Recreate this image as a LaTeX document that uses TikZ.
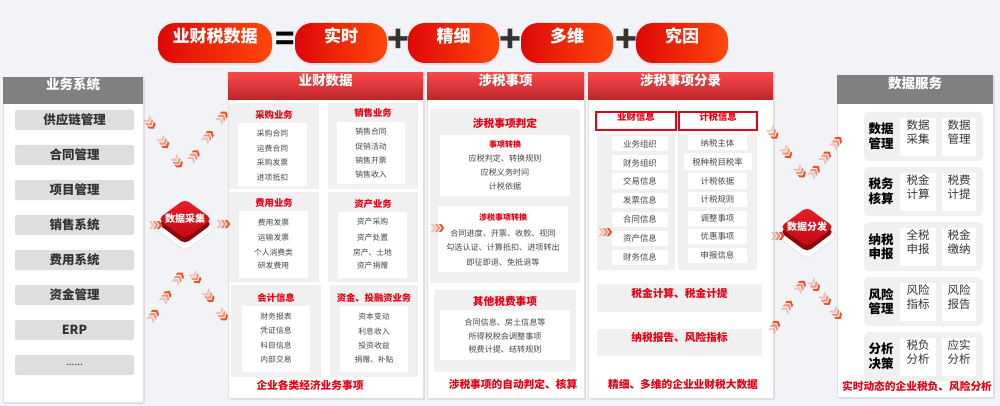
\documentclass[tikz,border=0pt]{standalone}
\usepackage{fontspec}
\setmainfont{Noto Sans CJK SC}
\usetikzlibrary{shapes.geometric,shadows,decorations.markings,fit}
\definecolor{bgc}{RGB}{241,243,247}
\definecolor{redt}{RGB}{232,0,20}
\definecolor{boxg}{RGB}{240,240,240}
\definecolor{headg}{RGB}{128,128,128}
\definecolor{itemg}{RGB}{222,222,222}
\definecolor{txtd}{RGB}{51,51,51}
\definecolor{txti}{RGB}{70,70,70}
\definecolor{chevc}{RGB}{240,80,36}
\definecolor{pillL}{RGB}{222,8,8}
\definecolor{pillR}{RGB}{255,72,10}
\definecolor{hdT}{RGB}{248,72,72}
\definecolor{hdB}{RGB}{188,36,40}
\definecolor{faceT}{RGB}{232,32,38}
\definecolor{faceB}{RGB}{192,8,16}
\definecolor{deepred}{RGB}{140,6,12}
\newcommand\fsz[2]{\fontsize{#1pt}{#2pt}\selectfont}
\newcommand\chevgroup{%
  \foreach \o/\op in {-8/0.3,-4/0.6,0/1}{%
    \fill[chevc,opacity=\op] (\o-2.5,-4) -- (\o,-4) -- (\o+3,0) -- (\o,4) -- (\o-2.5,4) -- (\o+0.5,0) -- cycle;}}
\newcommand\rbox[5][]{\node[#1,fit={(#3)(#4)},inner sep=0pt] (#2) {#5};}
\newcommand\cubediam[4]{%
  \fill[white,draw=black!12,line width=0.6pt,rounded corners=6pt] (#2,#3-12) -- (#2+31,#3+9) -- (#2,#3+32) -- (#2-31,#3+9) -- cycle;
  \fill[deepred,rounded corners=5pt] (#2,#3-15) -- (#2+27,#3+5) -- (#2,#3+25) -- (#2-27,#3+5) -- cycle;
  \node[cubeface] (#1) at (#2,#3) {#4};}
\tikzset{
  chevs/.style={decoration={markings,
     mark=at position 0.2 with {\chevgroup},
     mark=at position 0.58 with {\chevgroup},
     mark=at position 0.96 with {\chevgroup}},decorate},
  chevone/.style={decoration={markings,mark=at position 0.95 with {\chevgroup}},decorate},
  panel/.style={draw=black!12,fill=white,line width=0.8pt,drop shadow={shadow xshift=1.5pt,shadow yshift=-1.5pt,opacity=0.18}},
  redhead/.style={top color=hdT,bottom color=hdB,text=white,font=\fsz{13.5}{14}\bfseries},
  grayhead/.style={fill=headg,text=white,font=\fsz{13.5}{14}\bfseries},
  pill/.style={rounded corners=17pt,left color=pillL,right color=pillR,text=white,font=\fsz{17}{17}\bfseries,drop shadow={shadow xshift=0pt,shadow yshift=-2pt,opacity=0.15}},
  sign/.style={font=\fsz{36}{36}\bfseries,text=txtd,inner sep=0pt},
  lbox/.style={fill=itemg,rounded corners=2pt,minimum width=119pt,minimum height=20pt,inner sep=0pt,font=\fsz{12.5}{13}\bfseries,text=txtd},
  gbox/.style={fill=boxg},
  wbox/.style={fill=white},
  subttl/.style={text=redt,font=\fsz{9.3}{10}\bfseries,inner sep=0pt},
  smallred/.style={text=redt,font=\fsz{8}{9}\bfseries,inner sep=0pt},
  itm/.style={text=txti,font=\fsz{7.8}{9}},
  itm2/.style={text=txti,font=\fsz{8.1}{9}},
  foot/.style={text=redt,font=\fsz{10.7}{11}\bfseries,inner sep=0pt},
  hbox/.style={draw=redt,line width=1.5pt,fill=white,text=redt,font=\fsz{9.3}{10}\bfseries},
  cbox/.style={fill=white,minimum width=56pt,minimum height=15pt,inner sep=0pt,text=txti,font=\fsz{8.4}{9}},
  bar/.style={fill=boxg,text=redt,font=\fsz{10.7}{11}\bfseries},
  rowbox/.style={fill=boxg,rounded corners=6pt},
  rowlbl/.style={align=center,font=\fsz{12.5}{14.5}\bfseries,text=black,inner sep=0pt},
  rowitm/.style={fill=white,align=center,font=\fsz{11.5}{13.5},text=txtd,inner sep=0pt},
  cubeface/.style={shape=diamond,aspect=1.35,minimum width=54pt,minimum height=40pt,inner sep=0pt,rounded corners=5pt,top color=faceT,bottom color=faceB,text=white,font=\fsz{10}{10}\bfseries}
}
\begin{document}
\begin{tikzpicture}[x=1pt,y=-1pt]
\useasboundingbox (0,0) rectangle (1000,406);
\fill[bgc] (0,0) rectangle (1000,406);

% ---- top formula ----
\rbox[pill]{p0}{158,23}{272,63}{业财税数据}
\node[sign,text=black,font=\fsz{32}{32}\bfseries] (eq) at (285,41) {=};
\rbox[pill]{p1}{295,23}{387,63}{实时}
\node[sign] (pl1) at (398,41) {+};
\rbox[pill]{p2}{408,23}{499,63}{精细}
\node[sign] (pl2) at (510,41) {+};
\rbox[pill]{p3}{521,23}{613,63}{多维}
\node[sign] (pl3) at (626,41) {+};
\rbox[pill]{p4}{636,23}{728,63}{究因}

% ---- left panel ----
\rbox[panel]{lpanel}{3,77}{143,402}{}
\rbox[grayhead]{lhead}{3,77}{143,104}{业务系统}
\foreach \t/\y [count=\i] in {供应链管理/120,合同管理/155,项目管理/190,销售系统/225,费用系统/260,资金管理/295,ERP/330}
  \node[lbox] (ls\i) at (74.5,\y) {\t};
\node[lbox,font=\fsz{10}{10}] (ls8) at (74.5,365) {......};

% ---- column 1 ----
\rbox[panel]{col1}{228,73}{423,398}{}
\rbox[redhead]{h1}{228,73}{423,100}{业财数据}
\rbox[gbox]{b11}{229,103}{319,189}{}
\rbox[wbox]{w11}{238,123}{307,186}{}
\node[subttl] (t11) at (274,115) {采购业务};
\foreach \t/\y [count=\i] in {采购合同/134,运费合同/149,采购发票/163,进项抵扣/178}
  \node[itm] (i11-\i) at (272.5,\y) {\t};
\rbox[gbox]{b12}{328,103}{418,189}{}
\rbox[wbox]{w12}{337,122}{405,184}{}
\node[subttl] (t12) at (373,113) {销售业务};
\foreach \t/\y [count=\i] in {销售合同/132,促销活动/147,销售开票/161,销售收入/175}
  \node[itm] (i12-\i) at (371,\y) {\t};
\rbox[gbox]{b21}{229,192}{319,282}{}
\rbox[wbox]{w21}{239,211}{308,278}{}
\node[subttl] (t21) at (274,203) {费用业务};
\foreach \t/\y [count=\i] in {费用发票/223,运输发票/238,个人消费类/253,研发费用/266}
  \node[itm] (i21-\i) at (273.5,\y) {\t};
\rbox[gbox]{b22}{328,192}{418,282}{}
\rbox[wbox]{w22}{338,212}{407,278}{}
\node[subttl] (t22) at (373,204) {资产业务};
\foreach \t/\y [count=\i] in {资产采购/222,资产处置/238,房产、土地/253,资产捐赠/266}
  \node[itm] (i22-\i) at (372.5,\y) {\t};
\rbox[gbox]{b31}{231,285}{321,377}{}
\rbox[wbox]{w31}{242,306}{310,372}{}
\node[subttl] (t31) at (276,298) {会计信息};
\foreach \t/\y [count=\i] in {财务报表/317,凭证信息/331,科目信息/346,内部交易/360}
  \node[itm] (i31-\i) at (276,\y) {\t};
\rbox[gbox]{b32}{330,285}{418,377}{}
\rbox[wbox]{w32}{340,306}{408,372}{}
\node[subttl] (t32) at (374,298) {资金、投融资业务};
\foreach \t/\y [count=\i] in {资本变动/317,利息收入/331,投资收益/346,捐赠、补贴/360}
  \node[itm] (i32-\i) at (374,\y) {\t};
\node[foot] (f1) at (310,385) {企业各类经济业务事项};

% ---- column 2 ----
\rbox[panel]{col2}{427,73}{584,398}{}
\rbox[redhead]{h2}{427,73}{584,100}{涉税事项}
\rbox[gbox]{g21}{430,109}{580,283}{}
\node[foot] (t2a) at (505,123) {涉税事项判定};
\rbox[wbox]{w2a}{440,135}{570,196}{}
\node[smallred] (s2a) at (505,144) {事项转换};
\foreach \t/\y [count=\i] in {应税判定、转换规则/158,应税义务时间/172,计税依据/186}
  \node[itm2] (i2a-\i) at (505,\y) {\t};
\rbox[wbox]{w2b}{438,206}{568,272}{}
\node[smallred] (s2b) at (503,217) {涉税事项转换};
\foreach \t/\y [count=\i] in {合同进度、开票、收款、视同/233,勾选认证、计算抵扣、进项转出/247,即征即退、免抵退等/262}
  \node[itm2] (i2b-\i) at (503,\y) {\t};
\rbox[gbox]{g22}{434,290}{576,372}{}
\node[foot] (t2c) at (505,301) {其他税费事项};
\rbox[wbox]{w2c}{440,310}{570,360}{}
\foreach \t/\y [count=\i] in {合同信息、房土信息等/322,所得税税会调整事项/336,税费计提、结转规则/349}
  \node[itm2] (i2c-\i) at (505,\y) {\t};
\node[foot] (f2) at (513,384) {涉税事项的自动判定、核算};

% ---- column 3 ----
\rbox[panel]{col3}{588,73}{773,398}{}
\rbox[redhead]{h3}{588,73}{773,100}{涉税事项分录}
\rbox[hbox]{hb1}{596,112}{676,130}{业财信息}
\rbox[hbox]{hb2}{679,112}{757,130}{计税信息}
\rbox[gbox]{gl}{597,134}{675,270}{}
\rbox[gbox]{gr}{678,134}{757,270}{}
\foreach \t/\y [count=\i] in {业务组织/144,财务组织/163,交易信息/181,发票信息/200,合同信息/219,资产信息/238,财务信息/257}
  \node[cbox] (cl\i) at (640,\y) {\t};
\foreach \t/\y [count=\i] in {纳税主体/143,计税依据/181,计税规则/199,调整事项/218,优惠事项/236,申报信息/255}
  \node[cbox,minimum width=59pt] (cr\i) at (717.5,\y) {\t};
\node[cbox,minimum width=68pt,minimum height=17pt] (cr7) at (717.5,162) {税种税目税率};
\rbox[bar]{bar1}{597,284}{762,312}{税金计算、税金计提}
\rbox[bar]{bar2}{597,329}{762,356}{纳税报告、风险指标}
\node[foot] (f3) at (683,384) {精细、多维的企业业财税大数据};

% ---- right panel ----
\rbox[panel]{rpanel}{837,75}{993,397}{}
\rbox[grayhead]{rhead}{837,75}{993,104}{数据服务}
\foreach \tp/\a/\b/\c [count=\i] in {112/{数据\\管理}/{数据\\采集}/{数据\\管理},
    167/{税务\\核算}/{税金\\计算}/{税费\\计提},
    222/{纳税\\申报}/{全税\\申报}/{税金\\缴纳},
    277/{风险\\管理}/{风险\\指标}/{风险\\报告},
    332/{分析\\决策}/{税负\\分析}/{应实\\分析}}{
  \rbox[rowbox]{r\i}{864,\tp}{983,\tp+49}{}
  \node[rowlbl] (r\i-l) at (881,\tp+24.5) {\a};
  \rbox[rowitm]{r\i-a}{900,\tp+6}{936,\tp+44}{\b}
  \rbox[rowitm]{r\i-b}{942,\tp+6}{976,\tp+44}{\c}
}
\node[foot] (f4) at (917,386) {实时动态的企业税负、风险分析};

% ---- diamonds ----
\cubediam{dcol}{185}{219}{数据采集}
\cubediam{ddis}{807}{227}{数据分发}

% ---- chevron connectors ----
\coordinate (a1) at (145,116); \coordinate (a2) at (181,167);
\coordinate (a3) at (189,163); \coordinate (a4) at (226,112);
\coordinate (a5) at (149,322); \coordinate (a6) at (182,273);
\coordinate (a7) at (191,271); \coordinate (a8) at (226,320);
\coordinate (a9) at (146,225); \coordinate (a10) at (160,225);
\coordinate (a11) at (212,224); \coordinate (a12) at (228,224);
\coordinate (m1) at (428,228); \coordinate (m2) at (442,228);
\coordinate (m3) at (594,232); \coordinate (m4) at (610,232);
\coordinate (b1) at (768,126); \coordinate (b2) at (804,177);
\coordinate (b3) at (811,176); \coordinate (b4) at (840,138);
\coordinate (b5) at (770,334); \coordinate (b6) at (804,281);
\coordinate (b7) at (811,281); \coordinate (b8) at (840,318);
\coordinate (b9) at (770,236); \coordinate (b10) at (782,236);
\path[chevs] (a1) -- (a2);
\path[chevs] (a3) -- (a4);
\path[chevs] (a5) -- (a6);
\path[chevs] (a7) -- (a8);
\path[chevone] (a9) -- (a10);
\path[chevone] (a11) -- (a12);
\path[chevone] (m1) -- (m2);
\path[chevone] (m3) -- (m4);
\path[chevs] (b1) -- (b2);
\path[chevs] (b3) -- (b4);
\path[chevs] (b5) -- (b6);
\path[chevs] (b7) -- (b8);
\path[chevone] (b9) -- (b10);
\end{tikzpicture}
\end{document}
